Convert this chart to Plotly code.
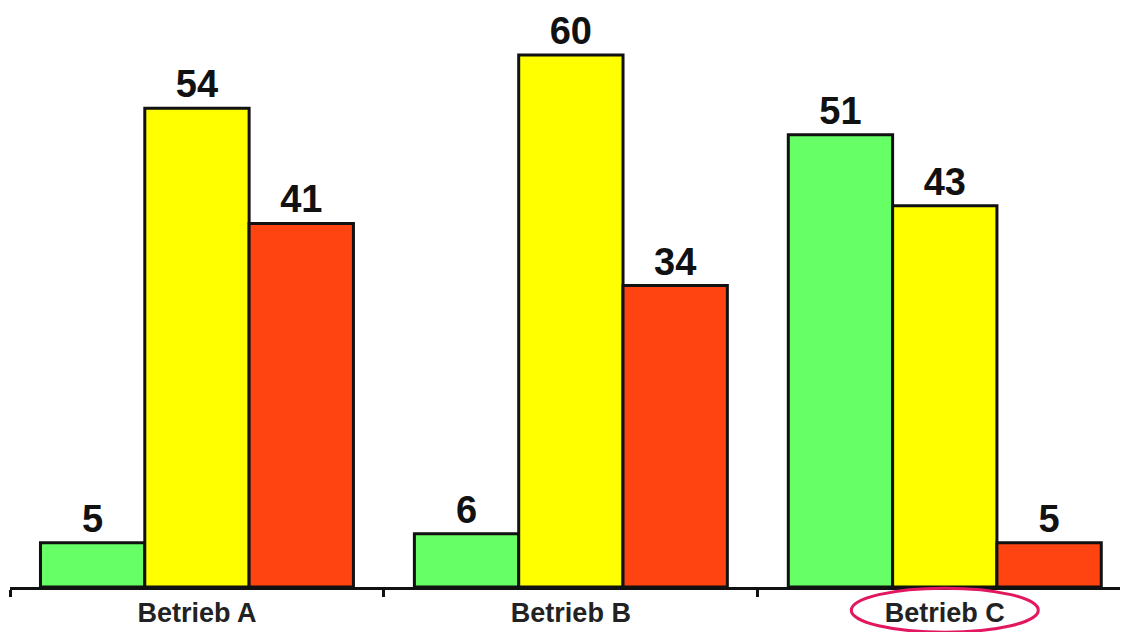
import plotly.graph_objects as go

categories = ["Betrieb A", "Betrieb B", "Betrieb C"]
green_vals = [5, 6, 51]
yellow_vals = [54, 60, 43]
red_vals = [41, 34, 5]
series_colors = ["#66FF66", "#FFFF00", "#FF4411"]

fig = go.Figure()
for vals, col in zip([green_vals, yellow_vals, red_vals], series_colors):
    fig.add_trace(go.Bar(
        x=categories, y=vals,
        marker=dict(color=col, line=dict(color="#111111", width=3)),
        text=vals, textposition="outside", cliponaxis=False,
        textfont=dict(family="Liberation Sans, Arial, sans-serif", size=38, color="#111111", weight="bold"),
        showlegend=False,
    ))

fig.update_layout(
    width=1120, height=624,
    margin=dict(l=2, r=0, t=0, b=45),
    paper_bgcolor="white", plot_bgcolor="white",
    barmode="group", bargap=0.163, bargroupgap=0,
)
fig.update_xaxes(
    range=[-0.5, 2.49], showline=True, linewidth=3, linecolor="#111111",
    ticks="outside", tickson="boundaries", ticklen=7, tickwidth=3, tickcolor="#111111",
    tickfont=dict(family="Liberation Sans, Arial, sans-serif", size=27, color="#222222", weight="bold"),
    showgrid=False, zeroline=False,
)
fig.update_yaxes(range=[0, 65.3], visible=False, showgrid=False, zeroline=False)

fig.add_shape(type="circle", xref="x", yref="paper",
              x0=1.75, x1=2.25, y0=-0.078, y1=-0.002,
              line=dict(color="#E3175F", width=3))

fig.write_html("out.html")
